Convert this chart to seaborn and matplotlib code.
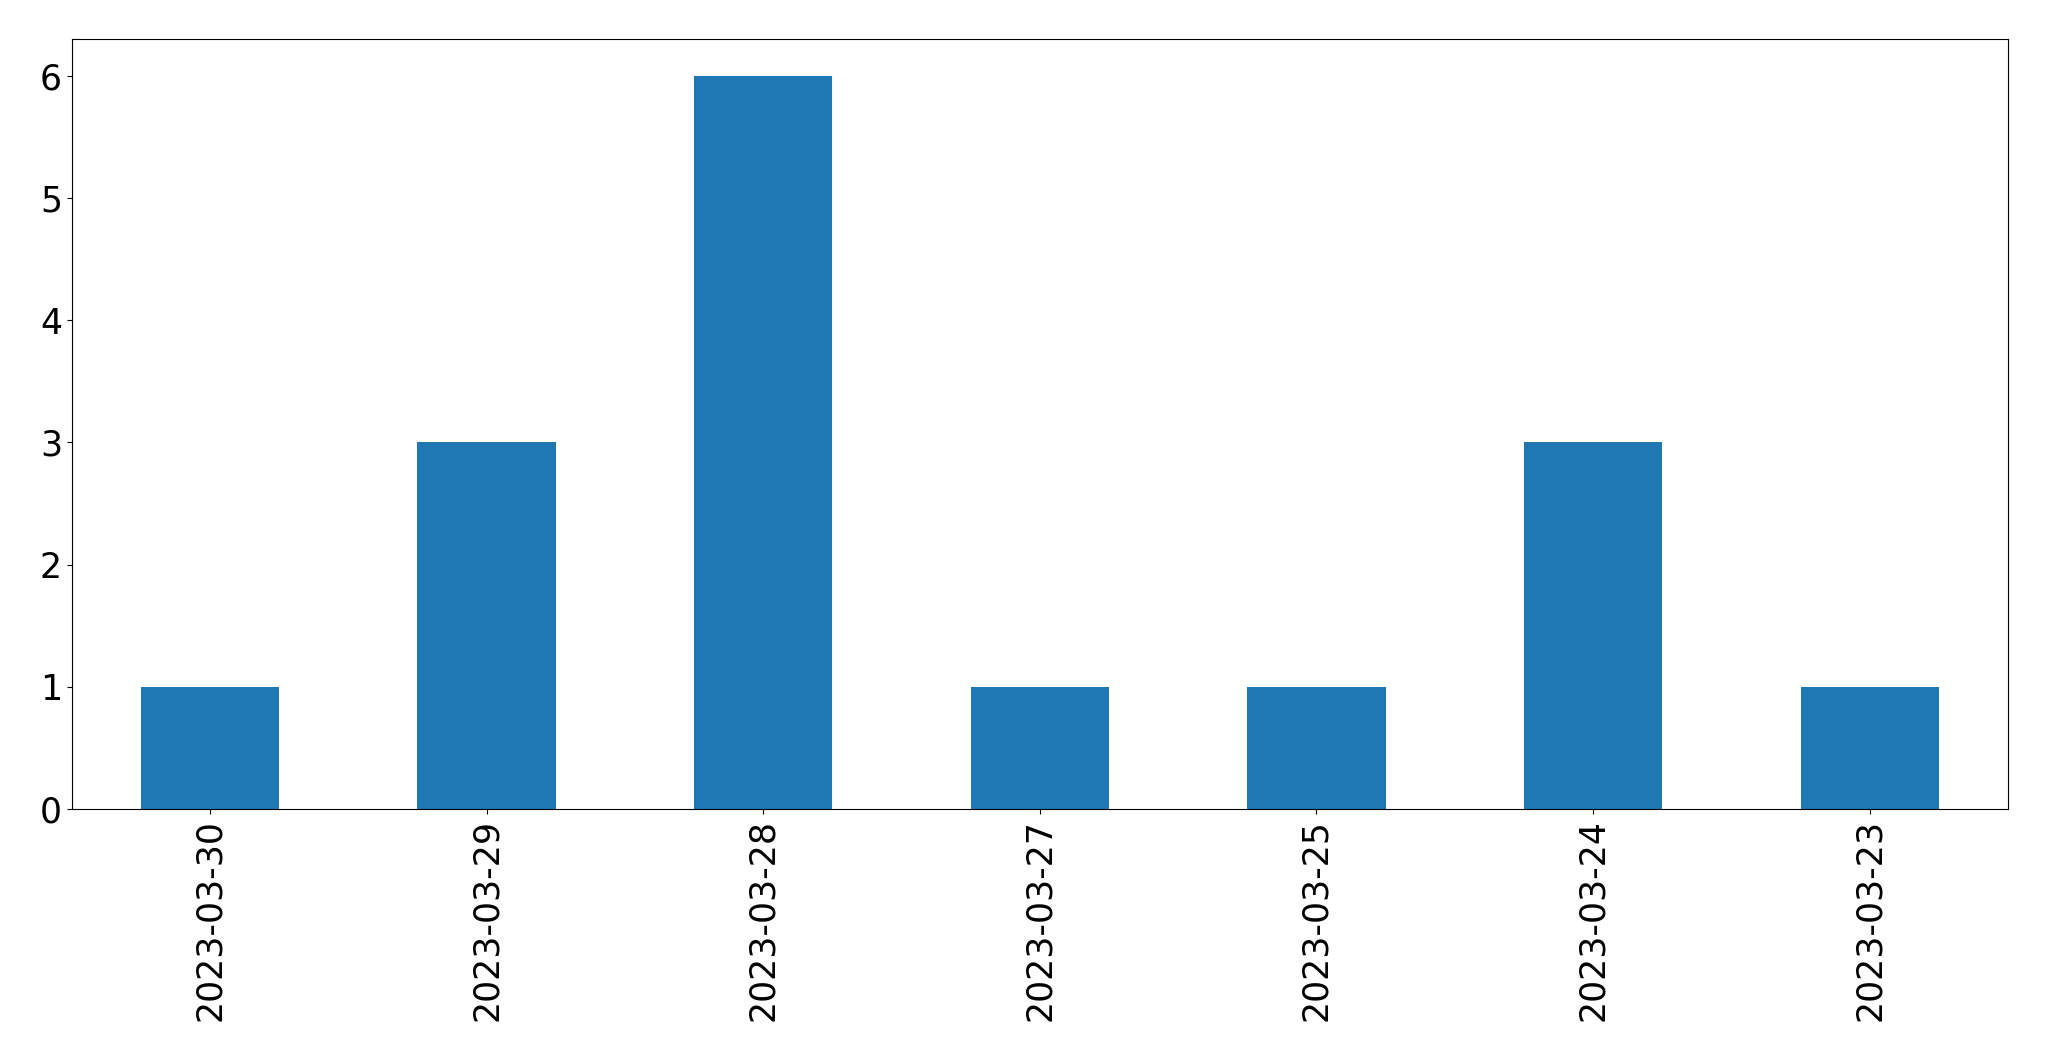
import matplotlib
matplotlib.use("Agg")
import matplotlib.pyplot as plt
import seaborn as sns
import pandas as pd

dates = ["2023-03-30", "2023-03-29", "2023-03-28", "2023-03-27",
         "2023-03-25", "2023-03-24", "2023-03-23"]
counts = [1, 3, 6, 1, 1, 3, 1]

df = pd.DataFrame({"date": dates, "count": counts})

fig, ax = plt.subplots(figsize=(20.49, 10.61), dpi=100)
sns.barplot(data=df, x="date", y="count", color="#1f77b4",
            saturation=1, width=0.5, ax=ax)
ax.set_xlim(-0.5, len(dates) - 0.5)
ax.set_ylim(0, 6.3)
ax.set_xlabel("")
ax.set_ylabel("")
ax.tick_params(axis="both", labelsize=25)
plt.setp(ax.get_xticklabels(), rotation=90)
fig.subplots_adjust(left=0.035, right=0.98, top=0.963, bottom=0.2375)
fig.savefig("out.png", dpi=100)
